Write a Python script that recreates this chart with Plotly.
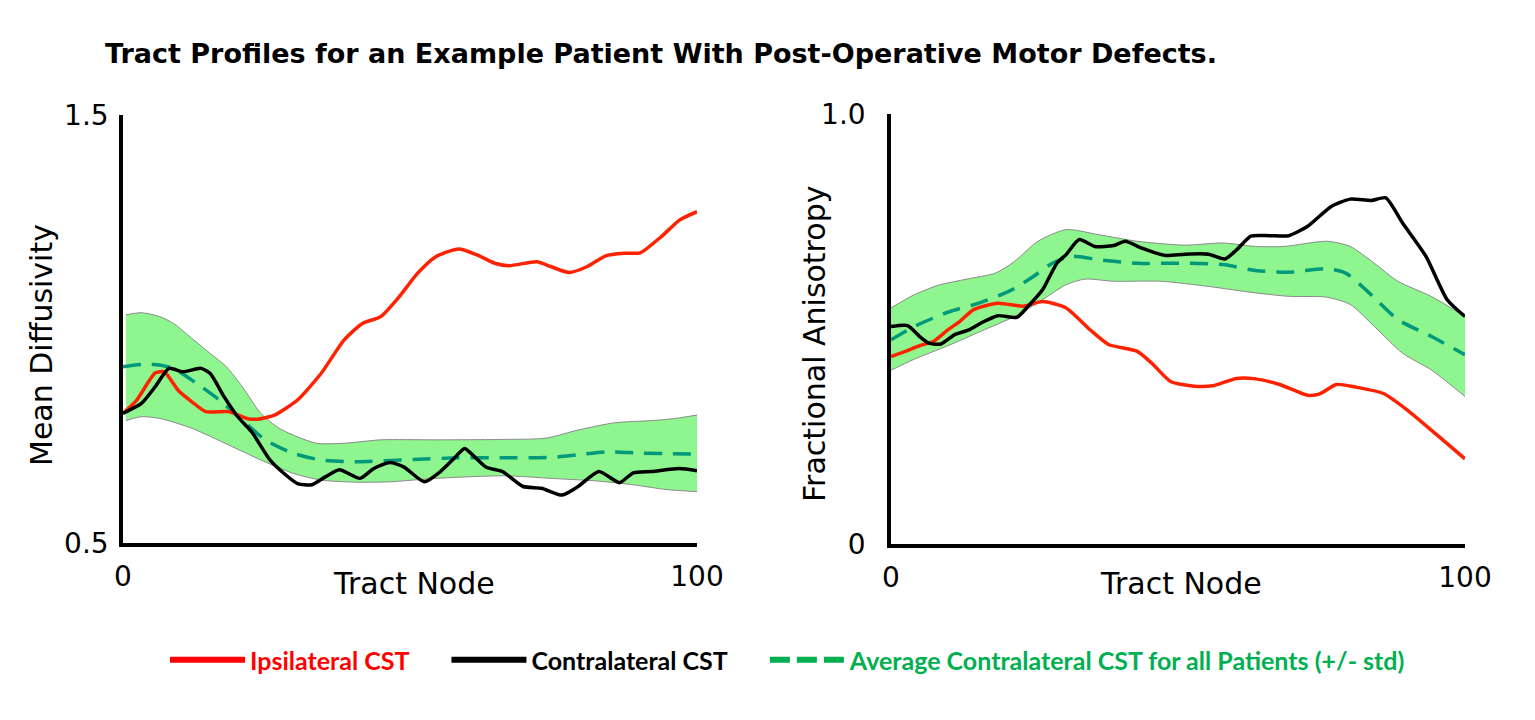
import plotly.graph_objects as go

# ---------------- data ----------------
# Left panel: Mean Diffusivity
md_ipsi_node = [0, 2.4, 5.6, 7.2, 9.6, 12, 14.4, 18.4, 21.6, 23.2, 26.4, 30.4, 34.5, 38.5, 41.7, 44.9,
                48.1, 51.3, 54.5, 58.5, 61.7, 64.9, 67.3, 72.1, 74.5, 77.7, 80.9, 84.1, 87.3, 90.1,
                93.8, 97.0, 100]
md_ipsi_val = [0.803, 0.834, 0.897, 0.900, 0.857, 0.830, 0.807, 0.807, 0.791, 0.789, 0.799, 0.834,
               0.896, 0.974, 1.013, 1.029, 1.075, 1.130, 1.169, 1.187, 1.173, 1.153, 1.148, 1.157,
               1.146, 1.132, 1.146, 1.171, 1.177, 1.178, 1.216, 1.255, 1.274]

md_contra_node = [0, 3.2, 5.6, 8.0, 10.4, 13.6, 15.2, 17.6, 20.0, 22.4, 25.6, 28.0, 30.4, 32.9, 35.3,
                  37.7, 41.3, 43.7, 46.5, 48.9, 52.5, 55.3, 57.7, 59.5, 60.9, 63.3, 66.1, 69.7, 72.9,
                  76.5, 79.3, 82.9, 86.5, 88.9, 92.1, 97.0, 100]
md_contra_val = [0.803, 0.826, 0.865, 0.908, 0.900, 0.908, 0.896, 0.842, 0.795, 0.760, 0.694, 0.663,
                 0.639, 0.636, 0.655, 0.671, 0.651, 0.674, 0.688, 0.678, 0.643, 0.667, 0.698, 0.721,
                 0.706, 0.677, 0.667, 0.632, 0.628, 0.612, 0.632, 0.667, 0.641, 0.664, 0.667, 0.674,
                 0.669]

md_mean_node = [0, 4.8, 8.8, 12.8, 16.8, 20.8, 24.8, 29.6, 34.5, 40.9, 50.5, 58.5, 66.5, 74.5, 79.3,
                84.1, 90.5, 100]
md_mean_val = [0.912, 0.918, 0.908, 0.873, 0.834, 0.787, 0.741, 0.710, 0.694, 0.690, 0.695, 0.699,
               0.699, 0.700, 0.706, 0.713, 0.710, 0.708]

md_upper_node = [0.5, 3.2, 6.4, 8.8, 12.0, 15.2, 18.0, 20.8, 24.0, 27.2, 30.4, 33.7, 38.5, 44.9, 54.5,
                 66.5, 73.7, 79.3, 85.7, 92.1, 96.2, 100]
md_upper_val = [1.033, 1.038, 1.029, 1.013, 0.978, 0.943, 0.912, 0.865, 0.803, 0.768, 0.748, 0.733,
                0.733, 0.741, 0.741, 0.742, 0.745, 0.764, 0.781, 0.786, 0.791, 0.799]
md_lower_node = [0.5, 3.2, 6.4, 12.0, 18.4, 24.0, 29.6, 34.5, 40.9, 46.5, 54.5, 66.5, 74.5, 82.5, 88.9,
                 94.6, 100]
md_lower_val = [0.786, 0.795, 0.791, 0.768, 0.729, 0.694, 0.663, 0.647, 0.642, 0.643, 0.651, 0.657,
                0.651, 0.645, 0.636, 0.625, 0.620]

# Right panel: Fractional Anisotropy
fa_ipsi_node = [0, 2.5, 4.95, 7.4, 9.9, 12.0, 14.4, 18.6, 23.1, 26.4, 30.5, 34.7, 37.9, 42.9, 45.4,
                48.7, 52.8, 56.1, 60.2, 63.5, 67.7, 72.6, 74.7, 77.6, 80.9, 85.8, 89.9, 94.9, 100]
fa_ipsi_val = [0.436, 0.448, 0.461, 0.471, 0.498, 0.518, 0.545, 0.560, 0.553, 0.564, 0.549, 0.498,
               0.464, 0.448, 0.421, 0.378, 0.367, 0.368, 0.385, 0.384, 0.371, 0.346, 0.349, 0.371,
               0.365, 0.350, 0.312, 0.256, 0.198]

fa_contra_node = [0, 2.9, 4.95, 6.6, 8.7, 11.1, 13.6, 15.7, 18.6, 21.9, 23.9, 26.4, 28.9, 30.5, 32.8,
                  35.5, 38.8, 40.8, 43.7, 47.8, 51.2, 55.3, 58.2, 60.2, 62.7, 66.0, 69.3, 72.6, 76.7,
                  80.0, 83.7, 86.2, 89.1, 93.2, 96.9, 100]
fa_contra_val = [0.506, 0.508, 0.483, 0.467, 0.465, 0.487, 0.498, 0.514, 0.531, 0.527, 0.553, 0.591,
                 0.653, 0.673, 0.708, 0.692, 0.694, 0.704, 0.688, 0.671, 0.674, 0.674, 0.663, 0.684,
                 0.716, 0.717, 0.717, 0.739, 0.785, 0.802, 0.799, 0.805, 0.747, 0.669, 0.568, 0.529]

fa_mean_node = [0, 4.1, 9.9, 15.7, 20.6, 24.8, 28.1, 31.4, 36.3, 42.9, 51.2, 57.8, 63.5, 69.3, 75.9,
                79.2, 83.3, 88.3, 94.1, 100]
fa_mean_val = [0.475, 0.506, 0.539, 0.562, 0.588, 0.622, 0.653, 0.669, 0.661, 0.653, 0.653, 0.650,
               0.636, 0.632, 0.640, 0.630, 0.584, 0.522, 0.483, 0.440]

fa_upper_node = [0, 4.1, 8.3, 13.2, 18.2, 21.5, 25.6, 30.5, 36.3, 42.9, 51.2, 57.8, 63.5, 68.5, 75.9,
                 80.0, 84.2, 88.3, 94.1, 100]
fa_upper_val = [0.549, 0.580, 0.602, 0.616, 0.630, 0.657, 0.704, 0.731, 0.719, 0.704, 0.695, 0.700,
                0.692, 0.692, 0.704, 0.692, 0.653, 0.611, 0.576, 0.529]
fa_lower_node = [0, 4.1, 9.9, 15.7, 21.5, 26.4, 30.5, 33.8, 38.8, 47.0, 55.3, 63.5, 69.3, 75.9, 80.0,
                 84.2, 89.1, 94.1, 100]
fa_lower_val = [0.404, 0.430, 0.461, 0.495, 0.529, 0.568, 0.603, 0.616, 0.611, 0.611, 0.599, 0.584,
                0.576, 0.574, 0.557, 0.506, 0.444, 0.405, 0.343]

x_tick_vals = [0, 100]
x_tick_text = ["0", "100"]
md_tick_vals = [0.5, 1.5]
md_tick_text = ["0.5", "1.5"]
fa_tick_vals = [0, 1.0]
fa_tick_text = ["0", "1.0"]

title_text = "Tract Profiles for an Example Patient With Post-Operative Motor Defects."
legend_names = ["Ipsilateral CST", "Contralateral CST",
                "Average Contralateral CST for all Patients (+/- std)"]

# ---------------- styling ----------------
AX_FONT = "'DejaVu Sans', sans-serif"
LEG_FONT = "Lato, 'Open Sans', sans-serif"
RED = "#FF2200"
BLACK = "#000000"
TEAL = "#00997A"
BAND = "#8FF58F"
BAND_EDGE = "#8A8A8A"
LEG_RED = "#FF0000"
LEG_GREEN = "#00B050"

W, H = 1535, 720
OFF = 8  # page offset of the figure in the browser (body margin)


def px(v):
    return (v - OFF) / W


def py(v):
    return 1 - (v - OFF) / H


fig = go.Figure()


def add_panel(xa, ya, up_n, up_v, lo_n, lo_v, mean_n, mean_v, ipsi_n, ipsi_v, con_n, con_v):
    fig.add_trace(go.Scatter(x=up_n, y=up_v, xaxis=xa, yaxis=ya, mode="lines",
                             line=dict(color=BAND_EDGE, width=1, shape="spline", smoothing=0.7),
                             showlegend=False, hoverinfo="skip"))
    fig.add_trace(go.Scatter(x=lo_n, y=lo_v, xaxis=xa, yaxis=ya, mode="lines", fill="tonexty",
                             fillcolor=BAND,
                             line=dict(color=BAND_EDGE, width=1, shape="spline", smoothing=0.7),
                             showlegend=False, hoverinfo="skip"))
    fig.add_trace(go.Scatter(x=mean_n, y=mean_v, xaxis=xa, yaxis=ya, mode="lines",
                             line=dict(color=TEAL, width=3.5, dash="18px,11px", shape="spline",
                                       smoothing=0.7),
                             showlegend=False))
    fig.add_trace(go.Scatter(x=ipsi_n, y=ipsi_v, xaxis=xa, yaxis=ya, mode="lines",
                             line=dict(color=RED, width=3.5, shape="spline", smoothing=0.6),
                             showlegend=False))
    fig.add_trace(go.Scatter(x=con_n, y=con_v, xaxis=xa, yaxis=ya, mode="lines",
                             line=dict(color=BLACK, width=3.5, shape="spline", smoothing=0.6),
                             showlegend=False))


add_panel("x", "y", md_upper_node, md_upper_val, md_lower_node, md_lower_val,
          md_mean_node, md_mean_val, md_ipsi_node, md_ipsi_val, md_contra_node, md_contra_val)
add_panel("x2", "y2", fa_upper_node, fa_upper_val, fa_lower_node, fa_lower_val,
          fa_mean_node, fa_mean_val, fa_ipsi_node, fa_ipsi_val, fa_contra_node, fa_contra_val)

# legend-only entries (thicker samples, coloured bold labels)
leg_styles = [dict(color=LEG_RED, width=6), dict(color=BLACK, width=6),
              dict(color=LEG_GREEN, width=6, dash="20px,7px")]
leg_text_colors = [LEG_RED, BLACK, LEG_GREEN]
leg_pad = "\u00a0" * 5
for name, st, tc in zip(legend_names, leg_styles, leg_text_colors):
    fig.add_trace(go.Scatter(x=[None], y=[None], mode="lines", line=st,
                             name=f"<b><span style='color:{tc}'>{name}</span></b>{leg_pad}",
                             showlegend=True))

axis_common = dict(showline=True, linecolor="black", linewidth=3.5, showgrid=False,
                   zeroline=False, ticks="", tickfont=dict(family=AX_FONT, size=28, color="black"))

fig.update_layout(
    width=W, height=H,
    paper_bgcolor="white", plot_bgcolor="white",
    margin=dict(l=0, r=0, t=0, b=0, pad=0, autoexpand=False),
    font=dict(family=AX_FONT, color="black"),
    title=dict(text=f"<b>{title_text}</b>", x=px(105), xanchor="left", y=py(54),
               yanchor="middle", font=dict(family=AX_FONT, size=27, color="black")),
    xaxis=dict(domain=[px(123), px(697)], range=[0, 100], tickvals=x_tick_vals,
               ticktext=x_tick_text, anchor="y", ticklabelstandoff=6, **axis_common),
    yaxis=dict(domain=[py(543), py(115)], range=[0.5, 1.5], tickvals=md_tick_vals,
               ticktext=md_tick_text, anchor="x", ticklabelstandoff=5, **axis_common),
    xaxis2=dict(domain=[px(891), px(1465)], range=[0, 100], tickvals=x_tick_vals,
                ticktext=x_tick_text, anchor="y2", ticklabelstandoff=6, **axis_common),
    yaxis2=dict(domain=[py(544), py(114)], range=[0, 1.0], tickvals=fa_tick_vals,
                ticktext=fa_tick_text, anchor="x2", ticklabelstandoff=16, **axis_common),
    legend=dict(orientation="h", x=px(165), xanchor="left", y=py(660), yanchor="middle",
                itemwidth=75, traceorder="normal", font=dict(family=LEG_FONT, size=25),
                bgcolor="rgba(0,0,0,0)"),
    showlegend=True,
)

axis_title_font = dict(family=AX_FONT, size=30, color="black")
fig.add_annotation(text="Tract Node", xref="paper", yref="paper", x=px(414), y=py(583),
                   showarrow=False, font=axis_title_font, xanchor="center", yanchor="middle")
fig.add_annotation(text="Tract Node", xref="paper", yref="paper", x=px(1181), y=py(583),
                   showarrow=False, font=axis_title_font, xanchor="center", yanchor="middle")
fig.add_annotation(text="Mean Diffusivity", xref="paper", yref="paper", x=px(41), y=py(345),
                   showarrow=False, font=axis_title_font, textangle=-90,
                   xanchor="center", yanchor="middle")
fig.add_annotation(text="Fractional Anisotropy", xref="paper", yref="paper", x=px(814),
                   y=py(344), showarrow=False, font=axis_title_font, textangle=-90,
                   xanchor="center", yanchor="middle")

fig.write_html("out.html")
